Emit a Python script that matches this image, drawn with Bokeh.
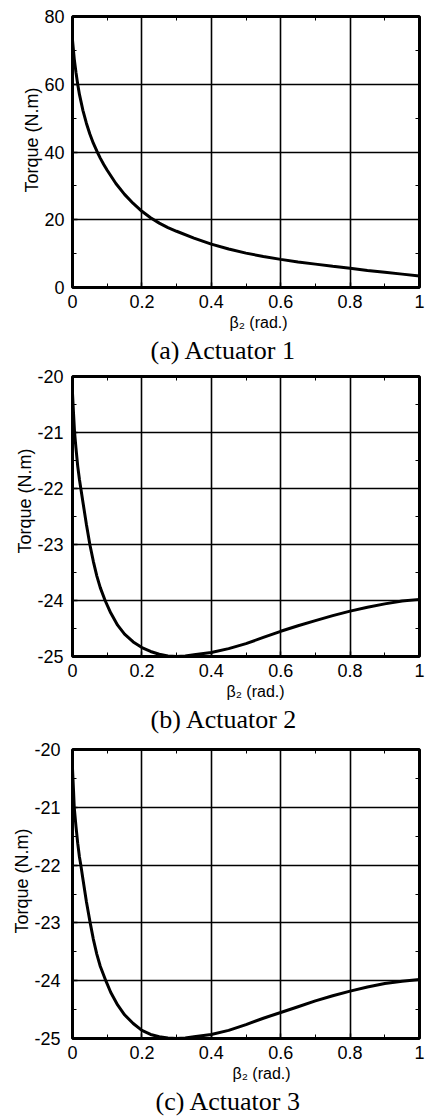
from bokeh.plotting import figure
from bokeh.models import Range1d, FixedTicker, LinearAxis, Title
from bokeh.layouts import column
from bokeh.embed import file_html
from bokeh.resources import INLINE

# ---------------- data ----------------
x_ticks = [0.0, 0.2, 0.4, 0.6, 0.8, 1.0]
x_tick_labels = ["0", "0.2", "0.4", "0.6", "0.8", "1"]
x_minor = [0.1, 0.3, 0.5, 0.7, 0.9]

y1_ticks = [0.0, 20.0, 40.0, 60.0, 80.0]
y1_tick_labels = ["0", "20", "40", "60", "80"]
y1_minor = [10.0, 30.0, 50.0, 70.0]

y23_ticks = [-25.0, -24.0, -23.0, -22.0, -21.0, -20.0]
y23_tick_labels = ["-25", "-24", "-23", "-22", "-21", "-20"]
y23_minor = [-24.5, -23.5, -22.5, -21.5, -20.5]

beta1 = [0, 0.005, 0.01, 0.015, 0.02, 0.03, 0.04, 0.05, 0.06, 0.07, 0.08, 0.09,
         0.1, 0.125, 0.15, 0.175, 0.2, 0.225, 0.25, 0.275, 0.3, 0.35, 0.4, 0.45,
         0.5, 0.55, 0.6, 0.65, 0.7, 0.75, 0.8, 0.85, 0.9, 0.95, 1.0]
torque1 = [73.0, 67.5, 63.5, 60.0, 57.0, 52.3, 48.5, 45.3, 42.6, 40.3, 38.2, 36.3,
           34.6, 30.7, 27.5, 24.8, 22.5, 20.6, 19.0, 17.7, 16.6, 14.6, 12.8, 11.35,
           10.15, 9.15, 8.3, 7.55, 6.9, 6.25, 5.65, 5.05, 4.5, 3.95, 3.4]

beta2 = [0, 0.003, 0.006, 0.01, 0.015, 0.02, 0.024, 0.03, 0.04, 0.05, 0.06, 0.07,
         0.08, 0.094, 0.11, 0.13, 0.15, 0.175, 0.2, 0.225, 0.25, 0.275, 0.3,
         0.325, 0.35, 0.4, 0.45, 0.5, 0.55, 0.6, 0.65, 0.7, 0.75, 0.8, 0.85,
         0.9, 0.95, 1.0]
torque2 = [-20.3, -20.66, -21.0, -21.28, -21.6, -21.84, -22.0, -22.24, -22.64,
           -23.0, -23.3, -23.56, -23.77, -24.0, -24.22, -24.44, -24.6, -24.74,
           -24.84, -24.91, -24.96, -24.99, -25.0, -24.99, -24.97, -24.93, -24.86,
           -24.77, -24.66, -24.55, -24.45, -24.36, -24.27, -24.19, -24.12, -24.06,
           -24.01, -23.98]

beta3 = [0, 0.003, 0.005, 0.01, 0.015, 0.02, 0.024, 0.03, 0.04, 0.051, 0.06, 0.07,
         0.08, 0.096, 0.11, 0.13, 0.15, 0.175, 0.2, 0.225, 0.25, 0.275, 0.3,
         0.325, 0.35, 0.4, 0.45, 0.5, 0.55, 0.6, 0.65, 0.7, 0.75, 0.8, 0.85,
         0.9, 0.95, 1.0]
torque3 = [-20.33, -20.72, -21.0, -21.33, -21.62, -21.86, -22.0, -22.24, -22.63,
           -23.0, -23.28, -23.54, -23.75, -24.0, -24.2, -24.42, -24.59, -24.74,
           -24.86, -24.93, -24.97, -24.99, -25.0, -24.99, -24.97, -24.93, -24.86,
           -24.76, -24.65, -24.55, -24.45, -24.35, -24.26, -24.18, -24.11, -24.05,
           -24.01, -23.98]

captions = ["(a) Actuator 1", "(b) Actuator 2", "(c) Actuator 3"]
x_label = "\u03b2\u2082 (rad.)"
y_label = "Torque (N.m)"

SANS = "Liberation Sans"
SERIF = "Liberation Serif"


def style_axis(ax, ticks, minor, labels, show_labels, standoff):
    ax.major_tick_in = 5
    ax.major_tick_out = 0
    ax.minor_tick_in = 4
    ax.minor_tick_out = 0
    ax.major_tick_line_color = "black"
    ax.minor_tick_line_color = "black"
    ax.major_tick_line_width = 1.5
    ax.minor_tick_line_width = 1
    ax.axis_line_color = None
    if show_labels:
        ax.ticker = FixedTicker(ticks=ticks, minor_ticks=minor)
        ax.major_label_overrides = {t: l for t, l in zip(ticks, labels)}
        ax.major_label_text_font = SANS
        ax.major_label_text_font_size = "18px"
        ax.major_label_text_color = "black"
        ax.major_label_standoff = standoff
    else:
        ax.ticker = FixedTicker(ticks=[], minor_ticks=minor)
        ax.major_label_standoff = 0


def make(beta, torque, yticks, ylabels, yminor, ymin, ymax, caption,
         height, left, right, top, bottom, ystandoff, ylab_off, xlab_off, cap_off):
    p = figure(width=433, height=height, output_backend="svg",
               toolbar_location=None, x_range=Range1d(0, 1),
               y_range=Range1d(ymin, ymax),
               min_border_left=left, min_border_right=right,
               min_border_top=top, min_border_bottom=bottom)
    p.background_fill_color = "white"
    p.border_fill_color = "white"
    p.outline_line_color = "black"
    p.outline_line_width = 3

    style_axis(p.xaxis[0], x_ticks, x_minor, x_tick_labels, True, 7)
    style_axis(p.yaxis[0], yticks, yminor, ylabels, True, ystandoff)

    top_ax = LinearAxis()
    style_axis(top_ax, x_ticks, x_minor, x_tick_labels, False, 0)
    p.add_layout(top_ax, "above")
    right_ax = LinearAxis()
    style_axis(right_ax, yticks, yminor, ylabels, False, 0)
    p.add_layout(right_ax, "right")

    p.xgrid.ticker = FixedTicker(ticks=x_ticks)
    p.ygrid.ticker = FixedTicker(ticks=yticks)
    for g in (p.xgrid[0], p.ygrid[0]):
        g.grid_line_color = "black"
        g.grid_line_width = 1.6
        g.grid_line_alpha = 1.0

    p.line(beta, torque, line_color="black", line_width=3)

    p.add_layout(Title(text=y_label, align="left", offset=ylab_off,
                       text_font=SANS, text_font_size="18px",
                       text_font_style="normal", text_color="black",
                       standoff=0), "left")
    p.add_layout(Title(text=x_label, align="left", offset=xlab_off,
                       text_font=SANS, text_font_size="16px",
                       text_font_style="normal", text_color="black",
                       standoff=3), "below")
    p.add_layout(Title(text=caption, align="left", offset=cap_off,
                       text_font=SERIF, text_font_size="26px",
                       text_font_style="normal", text_color="black",
                       standoff=2), "below")
    return p


p1 = make(beta1, torque1, y1_ticks, y1_tick_labels, y1_minor, 0, 80, captions[0],
          365, 72, 14, 16, 78, 8, 95, 157, 78)
p2 = make(beta2, torque2, y23_ticks, y23_tick_labels, y23_minor, -25, -20, captions[1],
          370, 72, 7, 11, 79, 9, 103, 154, 78)
p3 = make(beta3, torque3, y23_ticks, y23_tick_labels, y23_minor, -25, -20, captions[2],
          383, 67, 1, 14, 80, 12, 105, 160, 83)

layout = column(p1, p2, p3, spacing=0)
open("out.html", "w").write(file_html(layout, INLINE))
